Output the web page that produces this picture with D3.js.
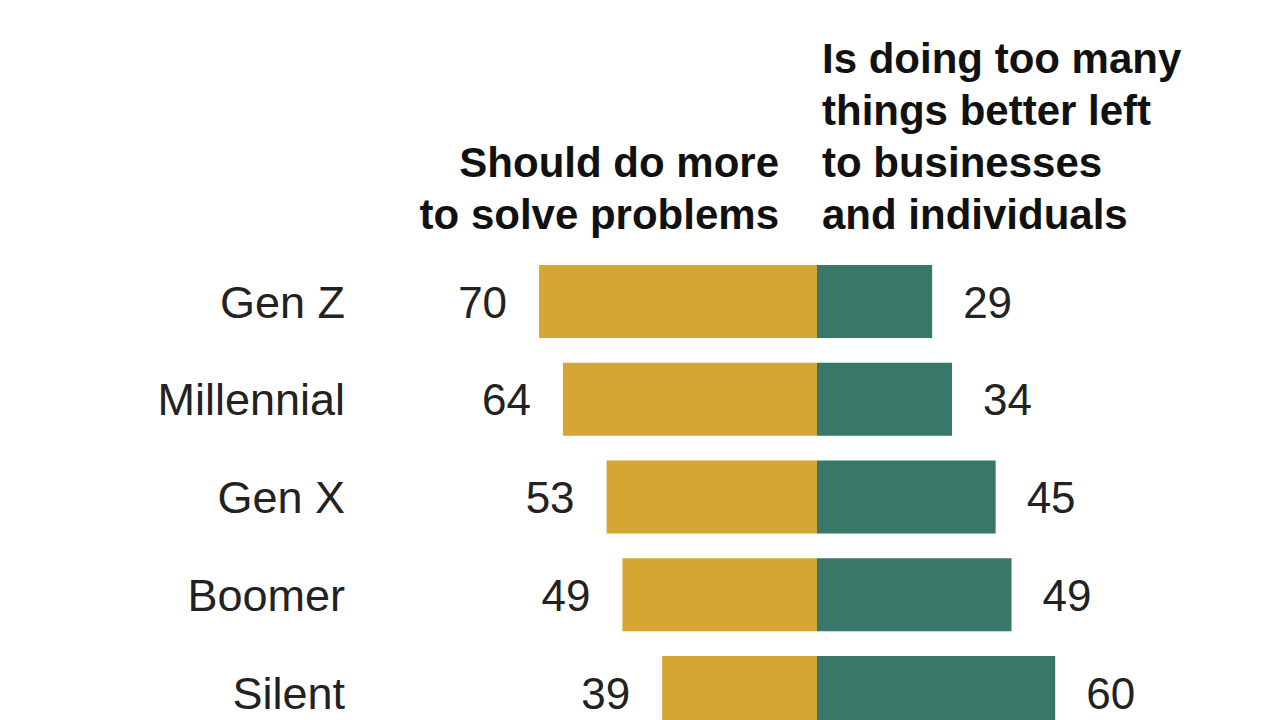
<!DOCTYPE html>
<html><head><meta charset="utf-8">
<script src="https://cdn.jsdelivr.net/npm/d3@7"></script>
<style>body{margin:0;background:#fff;} svg{display:block;}</style>
</head><body>
<script>
const categories = ["Gen Z", "Millennial", "Gen X", "Boomer", "Silent"];
const doMore = [70, 64, 53, 49, 39];
const tooMany = [29, 34, 45, 49, 60];
const leftHeader = ["Should do more", "to solve problems"];
const rightHeader = ["Is doing too many", "things better left", "to businesses", "and individuals"];

const W = 1279, H = 720;
const cx = 817;
const svg = d3.select("body").append("svg").attr("width", W).attr("height", H);

const x = d3.scaleLinear().domain([0, 100]).range([0, 397]);
const pad = 0.253, step = 97.75;
const y = d3.scaleBand().domain(categories).range([265, 265 + step * (categories.length - pad)]).paddingInner(pad).paddingOuter(0);

const font = "'Liberation Sans', Arial, sans-serif";
const gold = "#d5a631", teal = "#387869";

const rows = categories.map((c, i) => ({c, l: doMore[i], r: tooMany[i]}));

const g = svg.append("g");
g.selectAll("rect.l").data(rows).join("rect")
  .attr("x", d => cx - x(d.l)).attr("y", d => y(d.c))
  .attr("width", d => x(d.l)).attr("height", y.bandwidth()).attr("fill", gold);
g.selectAll("rect.r").data(rows).join("rect")
  .attr("x", cx).attr("y", d => y(d.c))
  .attr("width", d => x(d.r)).attr("height", y.bandwidth()).attr("fill", teal);

const yb = d => y(d.c) + y.bandwidth() / 2 + 16;

g.selectAll("text.cat").data(rows).join("text")
  .attr("x", 345).attr("y", yb).attr("text-anchor", "end")
  .attr("font-family", font).attr("font-size", 45).attr("fill", "#222").text(d => d.c);
g.selectAll("text.lv").data(rows).join("text")
  .attr("x", d => cx - x(d.l) - 32).attr("y", yb).attr("text-anchor", "end")
  .attr("font-family", font).attr("font-size", 44).attr("fill", "#222").text(d => d.l);
g.selectAll("text.rv").data(rows).join("text")
  .attr("x", d => cx + x(d.r) + 31).attr("y", yb).attr("text-anchor", "start")
  .attr("font-family", font).attr("font-size", 44).attr("fill", "#222").text(d => d.r);

svg.append("g").selectAll("text").data(leftHeader).join("text")
  .attr("x", 779).attr("y", (d, i) => 177 + i * 52).attr("text-anchor", "end")
  .attr("font-family", font).attr("font-weight", "bold").attr("font-size", 42).attr("fill", "#111").text(d => d);
svg.append("g").selectAll("text").data(rightHeader).join("text")
  .attr("x", 822).attr("y", (d, i) => 73 + i * 52).attr("text-anchor", "start")
  .attr("font-family", font).attr("font-weight", "bold").attr("font-size", 42).attr("fill", "#111").text(d => d);
</script>
</body></html>
